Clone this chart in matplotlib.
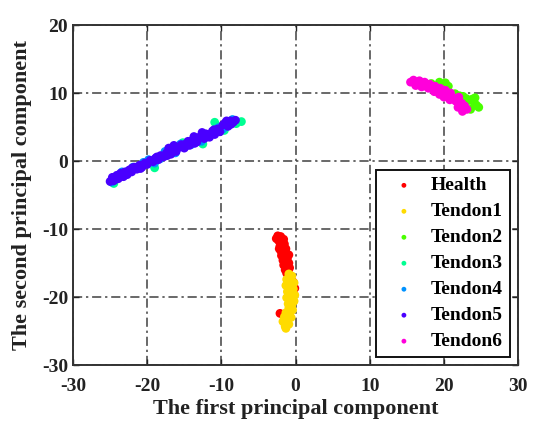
import matplotlib
matplotlib.use("Agg")
import matplotlib.pyplot as plt

# ---- data ----
labels = ["Health", "Tendon1", "Tendon2", "Tendon3", "Tendon4", "Tendon5", "Tendon6"]
colors = ["#ff0000", "#ffdb00", "#49ff00", "#00ff92", "#0092ff", "#4900ff", "#ff00db"]

x_health = [-2.4, -2.0, -1.6, -2.3, -1.9, -1.5, -2.1, -1.7, -1.3, -2.0, -1.6, -1.2, -1.9, -1.5,
            -1.1, -1.7, -1.3, -0.9, -1.6, -1.2, -0.8, -1.4, -1.0, -1.2, -0.1, -2.1, -0.3,
            -2.6, -2.2, -0.9]
y_health = [-11.0, -11.1, -11.5, -11.7, -11.9, -12.2, -12.5, -12.7, -12.9, -13.2, -13.4, -13.6,
            -13.9, -14.1, -14.3, -14.6, -14.8, -15.0, -15.3, -15.5, -15.7, -16.0, -16.2, -16.5,
            -18.7, -22.4, -17.8, -11.4, -12.9, -13.8]

x_t1 = [-0.9, -0.5, -1.2, -0.6, -0.2, -1.3, -0.8, -0.3, -1.1, -0.6, -0.1, -1.2, -0.7, -0.2,
        -1.0, -0.5, -0.9, -0.4, -1.3, -0.8, -1.5, -1.0, -0.6, -1.7, -1.2, -1.4, -0.9, -1.3]
y_t1 = [-16.6, -16.9, -17.4, -17.6, -17.9, -18.3, -18.5, -18.8, -19.2, -19.4, -19.7, -20.1,
        -20.3, -20.6, -21.0, -21.2, -21.6, -21.9, -22.3, -22.5, -22.9, -23.2, -23.0, -23.6,
        -23.9, -24.3, -24.0, -24.6]

x_t2 = [18.3, 19.4, 20.2, 20.6, 21.5, 22.1, 22.6, 23.0, 23.4, 23.8, 24.1, 24.4, 24.7, 22.3,
        23.6, 24.2, 21.0, 19.8]
y_t2 = [11.4, 11.6, 11.5, 11.0, 9.9, 9.6, 9.5, 9.2, 8.9, 9.1, 8.6, 8.2, 7.9, 8.0, 7.6, 9.3,
        9.8, 10.8]

x_t3 = [-24.5, -19.0, -16.7, -15.2, -12.5, -10.9, -9.6, -7.3, -8.0]
y_t3 = [-3.3, -1.0, 1.6, 2.7, 2.5, 5.7, 4.5, 5.8, 5.5]

x_t4 = [-24.8, -24.0, -23.4, -22.6, -21.9, -21.2, -20.5, -19.8, -19.0, -18.3, -17.6, -16.9,
        -16.2, -15.5, -14.9, -14.1, -13.4, -12.7, -11.8, -11.1, -10.4, -9.8, -9.2, -8.5]
y_t4 = [-3.1, -2.4, -1.6, -1.5, -0.9, -0.8, -0.2, 0.2, -0.3, 0.3, 1.4, 1.5, 1.2, 2.5, 2.1,
        2.4, 3.3, 2.9, 3.6, 4.1, 4.9, 4.7, 5.3, 6.1]

x_t5 = [-25.0, -24.7, -24.5, -24.1, -23.9, -23.6, -23.3, -23.0, -22.7, -22.4, -22.1, -21.7,
        -21.4, -21.0, -20.7, -20.3, -20.0, -19.6, -19.2, -18.9, -18.5, -18.2, -17.8, -17.4,
        -17.1, -16.8, -16.4, -16.1, -15.7, -15.4, -15.0, -14.7, -14.3, -14.0, -13.7, -13.3,
        -13.0, -12.6, -12.3, -11.9, -11.6, -11.2, -10.9, -10.5, -10.2, -9.8, -9.5, -9.1,
        -8.8, -8.4, -8.1, -24.3, -23.2, -22.0, -20.9, -18.7, -17.3, -16.0, -14.5, -13.6,
        -12.1, -11.0, -9.3, -8.7]
y_t5 = [-3.0, -2.4, -2.9, -2.1, -2.6, -1.8, -2.2, -1.6, -2.0, -1.3, -1.6, -0.9, -1.2, -0.6,
        -0.9, -0.3, -0.5, 0.1, -0.1, 0.4, 0.2, 0.8, 0.6, 1.2, 1.9, 1.0, 2.3, 1.4, 2.0, 2.4,
        1.9, 2.6, 2.3, 3.0, 3.6, 2.8, 3.5, 4.2, 3.3, 3.9, 3.5, 4.4, 3.9, 4.7, 4.3, 5.3, 5.6,
        5.1, 5.9, 5.7, 6.0, -2.7, -2.3, -1.0, -1.1, 0.6, 0.8, 2.0, 2.9, 2.6, 4.0, 4.6, 5.9,
        5.4]

x_t6 = [15.5, 15.9, 16.3, 16.7, 17.1, 17.4, 17.8, 18.1, 18.5, 18.8, 19.2, 19.5, 19.9, 20.2,
        20.6, 20.9, 21.3, 21.6, 22.0, 22.4, 22.8, 23.1, 16.2, 17.0, 17.9, 18.7, 19.4, 20.0,
        20.8, 21.9, 22.5]
y_t6 = [11.6, 11.9, 11.4, 11.8, 11.2, 11.6, 10.9, 11.3, 10.6, 11.0, 10.3, 10.7, 10.0, 10.4,
        9.6, 10.0, 9.3, 8.8, 9.4, 8.5, 8.1, 7.6, 11.1, 10.9, 10.7, 10.2, 9.8, 9.4, 9.0, 7.9,
        7.3]

xs = [x_health, x_t1, x_t2, x_t3, x_t4, x_t5, x_t6]
ys = [y_health, y_t1, y_t2, y_t3, y_t4, y_t5, y_t6]

ticks_x = [-30, -20, -10, 0, 10, 20, 30]
ticks_y = [-30, -20, -10, 0, 10, 20]

# ---- plotting ----
plt.rcParams['font.family'] = ['Liberation Serif', 'DejaVu Serif']
plt.rcParams['font.weight'] = 'bold'
plt.rcParams['axes.unicode_minus'] = False   # reference uses plain hyphens

fig = plt.figure(figsize=(5.33, 4.24), dpi=100)
ax = fig.add_axes([0.137, 0.139, 0.835, 0.802])

for xv, yv, c, lab in zip(xs, ys, colors, labels):
    ax.scatter(xv, yv, s=40, color=c, edgecolors='none', label=lab, zorder=3)

ax.set_xlim(-30, 30)
ax.set_ylim(-30, 20)
ax.set_xticks(ticks_x)
ax.set_yticks(ticks_y)
ax.tick_params(direction='in', length=4, width=1, labelsize=14, colors='#222222',
               top=True, right=True)
ax.tick_params(axis='x', pad=9)
ax.grid(True, color='#404040', linewidth=1.1, linestyle=(0, (6, 2.5, 1.5, 2.5)), zorder=1)
for sp in ax.spines.values():
    sp.set_linewidth(1.4)
    sp.set_color('#333333')

ax.set_xlabel("The first principal component", fontsize=16, fontweight='bold',
              color='#222222', labelpad=3)
ax.set_ylabel("The second principal component", fontsize=16, fontweight='bold',
              color='#222222', labelpad=7)

leg = ax.legend(loc='lower right', bbox_to_anchor=(0.982, 0.0235), borderaxespad=0,
                fontsize=14, markerscale=0.55, handletextpad=0.3, labelspacing=0.43,
                handlelength=2.2, fancybox=False, framealpha=1, edgecolor='#111111',
                borderpad=0.35)
leg.get_frame().set_linewidth(1.4)
for t in leg.get_texts():
    t.set_fontweight('bold')

fig.savefig("out.png", dpi=100)
